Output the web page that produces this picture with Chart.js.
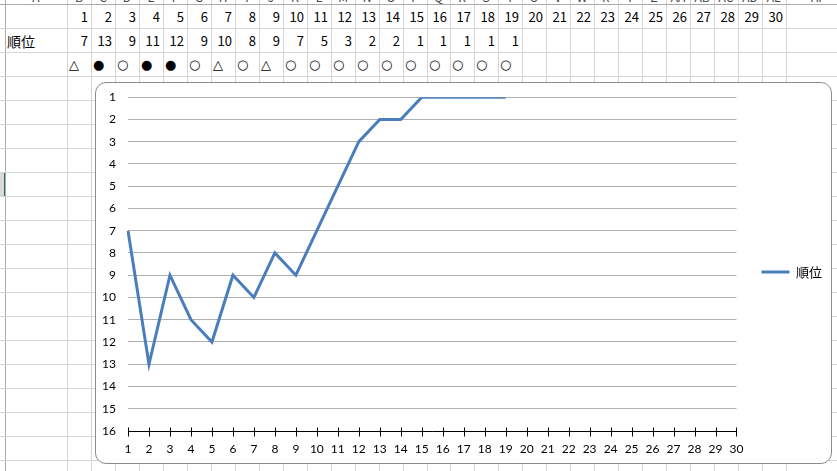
<!DOCTYPE html>
<html><head><meta charset="utf-8">
<script src="https://cdn.jsdelivr.net/npm/chart.js@4.4.0/dist/chart.umd.min.js"></script>
<style>
html,body{margin:0;padding:0;background:#fff;width:837px;height:471px;overflow:hidden;position:relative;}
#sheet{position:absolute;left:0;top:0;width:837px;height:471px;overflow:hidden;}
.vl{position:absolute;top:0;width:1px;height:471px;background:#d4d4d4;}
.hl{position:absolute;left:0;height:1px;width:837px;background:#d4d4d4;}
.cell{position:absolute;height:24px;line-height:24px;font-family:"Noto Sans CJK JP";font-size:13px;color:#000;white-space:nowrap;box-sizing:border-box;}
.num{text-align:right;padding-right:3px;}
.sym{text-align:left;padding-left:2px;font-family:"DejaVu Sans";font-size:13px;}
.hdr{position:absolute;top:-11px;height:16px;line-height:16px;font-family:"Noto Sans CJK JP";font-size:12px;color:#444;text-align:center;}
#box{position:absolute;left:95px;top:82px;width:737px;height:382px;box-sizing:border-box;border:1px solid #8c8c8c;border-radius:11px;background:#fff;}
#c{position:absolute;left:95px;top:82px;}
</style></head>
<body>
<div id="sheet"></div>
<div id="box"></div>
<canvas id="c" width="737" height="382"></canvas>
<script>
// ---- data ----
const seriesName = '順位';
const days = [1,2,3,4,5,6,7,8,9,10,11,12,13,14,15,16,17,18,19,20,21,22,23,24,25,26,27,28,29,30];
const ranks = [7,13,9,11,12,9,10,8,9,7,5,3,2,2,1,1,1,1,1];
const results = ['△','●','○','●','●','○','△','○','△','○','○','○','○','○','○','○','○','○','○'];
const colLetters = ['A','B','C','D','E','F','G','H','I','J','K','L','M','N','O','P','Q','R','S','T','U','V','W','X','Y','Z','AA','AB','AC','AD','AE','AF'];

// ---- spreadsheet background ----
const sheet = document.getElementById('sheet');
const cw = 23.967;
const edges = [5, 67];
for (let j = 1; j <= 30; j++) edges.push(Math.round(67 + j * cw));
edges.push(850);
function add(cls, style, text) {
  const d = document.createElement('div');
  d.className = cls;
  Object.assign(d.style, style);
  if (text !== undefined) d.textContent = text;
  sheet.appendChild(d);
  return d;
}
// row header highlight (selected row)
add('', {position:'absolute', left:'0px', top:'172px', width:'4px', height:'24px', background:'#d9d9d9'});
add('', {position:'absolute', left:'4px', top:'172px', width:'2px', height:'24px', background:'#217346'});
edges.forEach((x, i) => {
  add('vl', {left: x + 'px', background: i === 0 ? '#ababab' : '#d4d4d4'});
});
for (let y = 4; y <= 484; y += 24) add('hl', {top: y + 'px', background: y === 4 ? '#ababab' : '#d4d4d4'});
// column headers (mostly clipped)
colLetters.forEach((L, i) => {
  add('hdr', {left: edges[i] + 'px', width: (edges[i + 1] - edges[i]) + 'px'}, L);
});
// row 1: day numbers
days.forEach((d, i) => {
  add('cell num', {left: edges[i + 1] + 'px', top: '5px', width: (edges[i + 2] - edges[i + 1]) + 'px'}, String(d));
});
// row 2: label + ranks
add('cell', {left: '7px', top: '29px', width: '60px', fontSize: '14px'}, seriesName);
ranks.forEach((r, i) => {
  add('cell num', {left: edges[i + 1] + 'px', top: '29px', width: (edges[i + 2] - edges[i + 1]) + 'px'}, String(r));
});
// row 3: results
results.forEach((s, i) => {
  add('cell sym', {left: edges[i + 1] + 'px', top: '53px', width: (edges[i + 2] - edges[i + 1]) + 'px'}, s);
});

// ---- chart ----
const crossTicks = {
  id: 'crossTicks',
  afterDraw(chart) {
    const xs = chart.scales.x, ctx = chart.ctx;
    const yb = Math.round(chart.chartArea.bottom) + 0.5;
    ctx.save();
    ctx.strokeStyle = '#000';
    ctx.lineWidth = 1;
    ctx.beginPath();
    ctx.moveTo(chart.chartArea.left, yb);
    ctx.lineTo(chart.chartArea.right, yb);
    xs.ticks.forEach((t, i) => {
      const x = Math.round(xs.getPixelForTick(i)) + 0.5;
      ctx.moveTo(x, yb - 4);
      ctx.lineTo(x, yb + 5);
    });
    ctx.stroke();
    ctx.restore();
  }
};

new Chart(document.getElementById('c'), {
  type: 'line',
  data: {
    labels: days.map(String),
    datasets: [{
      label: seriesName,
      data: ranks,
      borderColor: '#4A7EBB',
      backgroundColor: '#4A7EBB',
      borderWidth: 3,
      pointRadius: 0,
      tension: 0,
      fill: false
    }]
  },
  options: {
    responsive: false,
    animation: false,
    devicePixelRatio: 1,
    layout: {padding: {top: -2, bottom: 0, left: 0, right: 0}},
    plugins: {
      legend: {
        position: 'right',
        align: 'center',
        labels: {
          usePointStyle: true,
          pointStyle: 'line',
          pointStyleWidth: 28,
          padding: 25,
          color: '#000',
          font: {family: '"Noto Sans CJK JP"', size: 13}
        }
      },
      tooltip: {enabled: false}
    },
    scales: {
      x: {
        type: 'category',
        offset: false,
        grid: {display: false, drawTicks: false},
        border: {display: false},
        ticks: {autoSkip: false, maxRotation: 0, padding: 11, color: '#000', font: {family: 'Lato', size: 12}},
        afterFit(s) { s.height = 33; }
      },
      y: {
        reverse: true,
        min: 1,
        max: 16,
        ticks: {stepSize: 1, padding: 8, color: '#000', font: {family: 'Lato', size: 12}},
        grid: {color: '#b0b0b0', drawTicks: true, tickLength: 4, tickColor: 'rgba(0,0,0,0)'},
        border: {display: false},
        afterFit(s) { s.width = 33; }
      }
    }
  },
  plugins: [crossTicks]
});
</script>
</body></html>
